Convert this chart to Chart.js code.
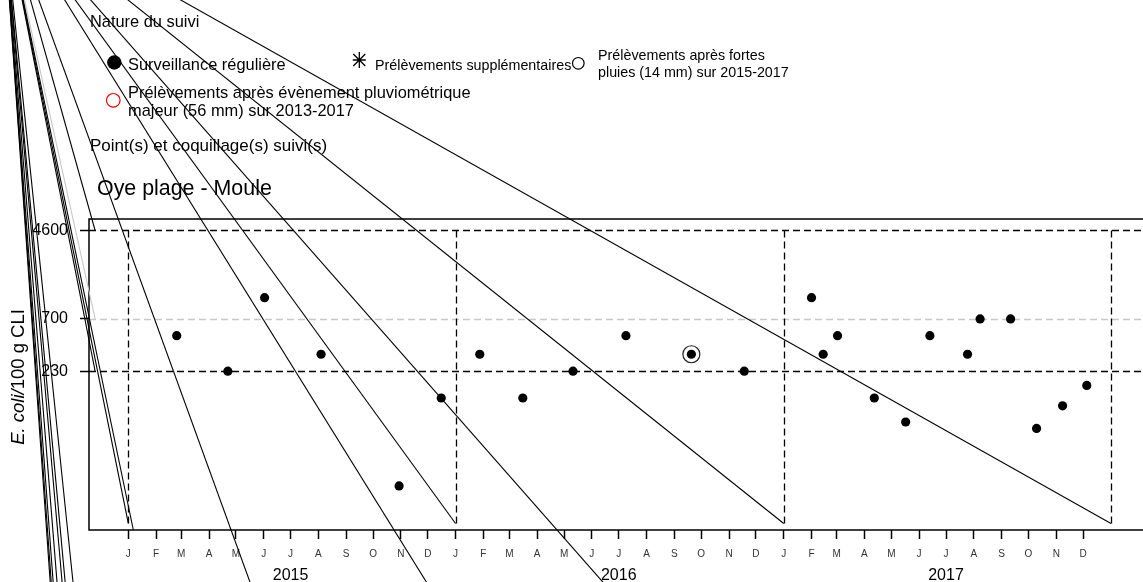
<!DOCTYPE html>
<html>
<head>
<meta charset="utf-8">
<script src="https://cdn.jsdelivr.net/npm/chart.js@4/dist/chart.umd.min.js"></script>
<style>
  html, body { margin: 0; padding: 0; background: #fff; overflow: hidden; }
  #wrap { width: 1160px; height: 582px; }
</style>
</head>
<body>
<div id="wrap"><canvas id="canvas" width="1160" height="582"></canvas></div>
<script>
// surveillance régulière : date du prélèvement, E. coli / 100 g CLI
const sampleDates = [
  '2015-02-24', '2015-04-22', '2015-06-02', '2015-08-04', '2015-10-30', '2015-12-16',
  '2016-01-28', '2016-03-16', '2016-05-11', '2016-07-09', '2016-09-20', '2016-11-18',
  '2017-02-01', '2017-02-14', '2017-03-02', '2017-04-12', '2017-05-17', '2017-06-13',
  '2017-07-25', '2017-08-08', '2017-09-11', '2017-10-10', '2017-11-08', '2017-12-05'
];
const sampleValues = [
  490, 230, 1100, 330, 20, 130,
  330, 130, 230, 490, 330, 230,
  1100, 330, 490, 130, 78, 490,
  330, 700, 700, 68, 110, 170
];
// prélèvements après fortes pluies
const rainDates = ['2016-09-20'];
const rainValues = [330];

const thresholds = [230, 700, 4600];
const thresholdColors = ['#000', '#c8c8c8', '#000'];
const yTicks = [230, 700, 4600];
const years = [2015, 2016, 2017];
const yearBounds = ['2015-01-01', '2016-01-01', '2017-01-01', '2018-01-01'];
const monthLetters = ['J', 'F', 'M', 'A', 'M', 'J', 'J', 'A', 'S', 'O', 'N', 'D'];

// stray strokes of the source picture: all start at one point above the page
// [day from 2015-01-01, value]
const strayOrigin = [-140.5, 5.27e6];
const strayEnds = [
  [-85.7, 1.76], [-84.5, 1.76], [-82.3, 1.76], [-77.9, 1.76], [-72.1, 1.76], [-68.6, 1.76], [-59.6, 1.76],
  [-37, 4600], [-37, 230], [0, 9], [5.6, 7.83],
  [143, 1.76], [345, 1.76], [365, 9], [547, 1.76], [731, 9], [1096, 9]
];
const strayGreyEnds = [[-37, 700]];

const day0 = Date.UTC(2015, 0, 1);
const toDay = s => (Date.parse(s) - day0) / 86400000;
const monthTicks = [];
years.forEach(yr => { for (let m = 0; m < 12; m++) monthTicks.push((Date.UTC(yr, m, 1) - day0) / 86400000); });

const FONT = '"Liberation Sans", Arial, sans-serif';
const xMin = -43.84, xMax = 1139.84;

const datasets = [
  {
    data: sampleDates.map((d, i) => ({ x: toDay(d), y: sampleValues[i] })),
    pointRadius: 4.6, pointBackgroundColor: '#000', pointBorderWidth: 0
  },
  {
    data: rainDates.map((d, i) => ({ x: toDay(d), y: rainValues[i] })),
    pointRadius: 8.5, pointBackgroundColor: 'rgba(0,0,0,0)', pointBorderColor: '#222', pointBorderWidth: 1.2
  }
];
function stray(end, color) {
  datasets.push({
    data: [{ x: strayOrigin[0], y: strayOrigin[1] }, { x: end[0], y: end[1] }],
    showLine: true, borderColor: color, borderWidth: 1.1, pointRadius: 0, clip: false
  });
}
strayEnds.forEach(e => stray(e, '#000'));
strayGreyEnds.forEach(e => stray(e, '#c8c8c8'));

const decor = {
  id: 'decor',
  beforeDatasetsDraw(chart) {
    const { ctx, chartArea: a, scales: { x, y } } = chart;
    ctx.save();
    // cadre
    ctx.strokeStyle = '#000';
    ctx.lineWidth = 1.5;
    ctx.strokeRect(a.left, a.top, a.right - a.left, a.bottom - a.top);
    // seuils
    ctx.lineWidth = 1.3;
    ctx.setLineDash([7, 4]);
    thresholds.forEach((v, i) => {
      const py = Math.round(y.getPixelForValue(v)) + 0.5;
      ctx.strokeStyle = thresholdColors[i];
      ctx.beginPath();
      ctx.moveTo(a.left, py);
      ctx.lineTo(chart.width, py);
      ctx.stroke();
    });
    // séparations des années
    ctx.strokeStyle = '#000';
    yearBounds.forEach(d => {
      const px = Math.round(x.getPixelForValue(toDay(d))) + 0.5;
      ctx.beginPath();
      ctx.moveTo(px, y.getPixelForValue(4600));
      ctx.lineTo(px, y.getPixelForValue(9));
      ctx.stroke();
    });
    ctx.setLineDash([]);

    // textes
    ctx.fillStyle = '#000';
    ctx.textBaseline = 'alphabetic';
    ctx.textAlign = 'left';
    ctx.font = '16.4px ' + FONT;
    ctx.fillText('Nature du suivi', 90, 27);
    ctx.fillText('Surveillance régulière', 128, 70);
    ctx.fillText('Prélèvements après évènement pluviométrique', 128, 98);
    ctx.fillText('majeur (56 mm) sur 2013-2017', 128, 116);
    ctx.font = '17px ' + FONT;
    ctx.fillText('Point(s) et coquillage(s) suivi(s)', 90, 151);
    ctx.font = '14.3px ' + FONT;
    ctx.fillText('Prélèvements supplémentaires', 375, 70);
    ctx.fillText('Prélèvements après fortes', 598, 60);
    ctx.fillText('pluies (14 mm) sur 2015-2017', 598, 77);
    ctx.font = '21.4px ' + FONT;
    ctx.fillText('Oye plage - Moule', 97, 195);

    // symboles de la légende
    ctx.beginPath();
    ctx.arc(114.3, 62.5, 7.2, 0, Math.PI * 2);
    ctx.fill();
    ctx.lineWidth = 1.2;
    ctx.strokeStyle = '#e00';
    ctx.beginPath();
    ctx.arc(113.3, 100.3, 6.8, 0, Math.PI * 2);
    ctx.stroke();
    ctx.strokeStyle = '#000';
    ctx.beginPath();
    ctx.arc(578.3, 63.3, 5.8, 0, Math.PI * 2);
    ctx.stroke();
    const ax = 359.3, ay = 60;
    ctx.lineWidth = 1.3;
    ctx.beginPath();
    ctx.moveTo(ax - 6.5, ay); ctx.lineTo(ax + 6.5, ay);
    ctx.moveTo(ax, ay - 8); ctx.lineTo(ax, ay + 8);
    ctx.moveTo(ax - 6, ay - 6); ctx.lineTo(ax + 6, ay + 6);
    ctx.moveTo(ax - 6, ay + 6); ctx.lineTo(ax + 6, ay - 6);
    ctx.stroke();

    // titre de l'axe y, "E. coli" en italique
    ctx.translate(19, 377);
    ctx.rotate(-Math.PI / 2);
    const it = 'italic 18.5px ' + FONT, rm = '18.5px ' + FONT;
    ctx.font = it; const w1 = ctx.measureText('E. coli/').width;
    ctx.font = rm; const w2 = ctx.measureText('100 g CLI').width;
    ctx.textBaseline = 'middle';
    ctx.font = it; ctx.fillText('E. coli/', -(w1 + w2) / 2, 0);
    ctx.font = rm; ctx.fillText('100 g CLI', -(w1 + w2) / 2 + w1, 0);
    ctx.restore();
  }
};

new Chart(document.getElementById('canvas').getContext('2d'), {
  type: 'scatter',
  data: { datasets },
  options: {
    responsive: false,
    animation: false,
    events: [],
    layout: { padding: { top: 219, right: 6, left: 0, bottom: 0 } },
    plugins: { legend: { display: false }, tooltip: { enabled: false } },
    scales: {
      x: {
        type: 'linear', position: 'bottom', weight: 0, min: xMin, max: xMax,
        afterFit: s => { s.height = 28; },
        afterBuildTicks: s => { s.ticks = monthTicks.map(v => ({ value: v })); },
        ticks: {
          autoSkip: false, maxRotation: 0, minRotation: 0, padding: 9,
          font: { family: FONT, size: 10 }, color: '#333',
          callback: (v, i) => monthLetters[i % 12]
        },
        grid: { drawOnChartArea: false, tickLength: 9, tickColor: '#000', tickWidth: 1.5 },
        border: { display: false }
      },
      x2: {
        type: 'linear', position: 'bottom', weight: 1, min: xMin, max: xMax,
        afterFit: s => { s.height = 24; },
        afterBuildTicks: s => { s.ticks = years.map(yr => ({ value: toDay(yr + '-07-01') })); },
        ticks: {
          autoSkip: false, maxRotation: 0, minRotation: 0, padding: 0,
          font: { family: FONT, size: 16 }, color: '#000',
          callback: (v, i) => String(years[i])
        },
        grid: { display: false },
        border: { display: false }
      },
      y: {
        type: 'logarithmic', min: 7.83, max: 5875,
        afterFit: s => { s.width = 89; },
        afterBuildTicks: s => { s.ticks = yTicks.map(v => ({ value: v })); },
        ticks: {
          padding: 12, font: { family: FONT, size: 16 }, color: '#000',
          callback: v => String(v)
        },
        grid: { drawOnChartArea: false, tickLength: 9, tickColor: '#000', tickWidth: 1.5 },
        border: { display: false }
      }
    }
  },
  plugins: [decor]
});
</script>
</body>
</html>
